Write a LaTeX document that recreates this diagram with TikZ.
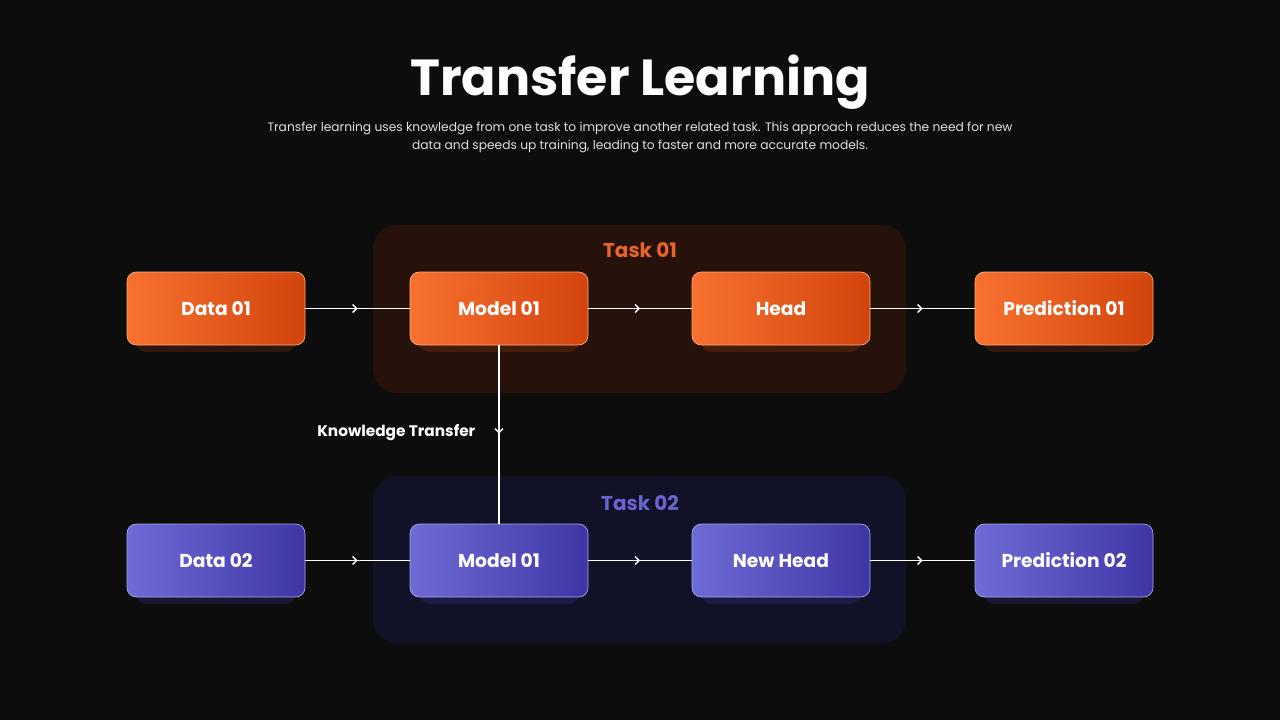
\documentclass[tikz,border=0pt]{standalone}
\usepackage{fontspec}
\setmainfont{Poppins}
\usetikzlibrary{decorations.markings,arrows.meta}
\definecolor{bg}{HTML}{0D0D0D}
\definecolor{orA}{HTML}{F8712F}
\definecolor{orB}{HTML}{D2440C}
\definecolor{puA}{HTML}{6E6BD6}
\definecolor{puB}{HTML}{3F36A6}
\definecolor{orT}{HTML}{E8642A}
\definecolor{puT}{HTML}{6B63D0}
\definecolor{orBox}{HTML}{26120A}
\definecolor{puBox}{HTML}{111228}
\tikzset{
 card/.style={rounded corners=7pt, minimum width=133.5pt, minimum height=54.75pt, text=white, font=\fontsize{14}{16}\selectfont\bfseries, shading angle=-60},
 orcard/.style={card, left color=orA, right color=orB, draw=orA!60!white, line width=0.5pt},
 pucard/.style={card, left color=puA, right color=puB, draw=puA!60!white, line width=0.5pt},
 flow/.style={white, line width=1pt, postaction={decorate}, decoration={markings, mark=at position 0.5 with {\arrow{Straight Barb[length=3pt,width=6pt]}}}},
 taskbox/.style={rounded corners=18pt},
}
\begin{document}
\begin{tikzpicture}[x=0.75pt,y=-0.75pt]
\fill[bg] (0,0) rectangle (1280,720);
\useasboundingbox (0,0) rectangle (1280,720);
\node[font=\fontsize{38}{44}\selectfont\bfseries, text=white] (title) at (640,82) {Transfer Learning};
\node[font=\fontsize{9.2}{13.5}\selectfont, text=white!88!black, align=center] (sub) at (640,137) {Transfer learning uses knowledge from one task to improve another related task. This approach reduces the need for new\\data and speeds up training, leading to faster and more accurate models.};
% task boxes
\fill[orBox,taskbox] (373,225) rectangle (906,393);
\fill[puBox,taskbox] (373,476) rectangle (906,643);
\node[text=orT, font=\fontsize{15}{18}\selectfont\bfseries] (t1) at (640,250) {Task 01};
\node[text=puT, font=\fontsize{15}{18}\selectfont\bfseries] (t2) at (640,503) {Task 02};
% glows
\foreach \x in {216,499,781,1064}{
 \fill[orB, opacity=0.18, rounded corners=8pt] (\x-80,300) rectangle (\x+80,352);
 \fill[puB, opacity=0.25, rounded corners=8pt] (\x-80,552) rectangle (\x+80,604);
}
\node[orcard] (d1) at (216,308.5) {Data 01};
\node[orcard] (m1) at (499,308.5) {Model 01};
\node[orcard] (h1) at (781,308.5) {Head};
\node[orcard] (p1) at (1064,308.5) {Prediction 01};
\node[pucard] (d2) at (216,560.5) {Data 02};
\node[pucard] (m2) at (499,560.5) {Model 01};
\node[pucard] (h2) at (781,560.5) {New Head};
\node[pucard] (p2) at (1064,560.5) {Prediction 02};
\draw[flow] (d1) -- (m1);
\draw[flow] (m1) -- (h1);
\draw[flow] (h1) -- (p1);
\draw[flow] (d2) -- (m2);
\draw[flow] (m2) -- (h2);
\draw[flow] (h2) -- (p2);
\draw[white, line width=1pt, postaction={decorate}, decoration={markings, mark=at position 0.495 with {\arrow{Straight Barb[length=3pt,width=6pt]}}}] (m1) -- (m2);
\node[anchor=east, text=white, font=\fontsize{11.5}{14}\selectfont\bfseries] (kt) at (480,433) {Knowledge Transfer};
\end{tikzpicture}
\end{document}
